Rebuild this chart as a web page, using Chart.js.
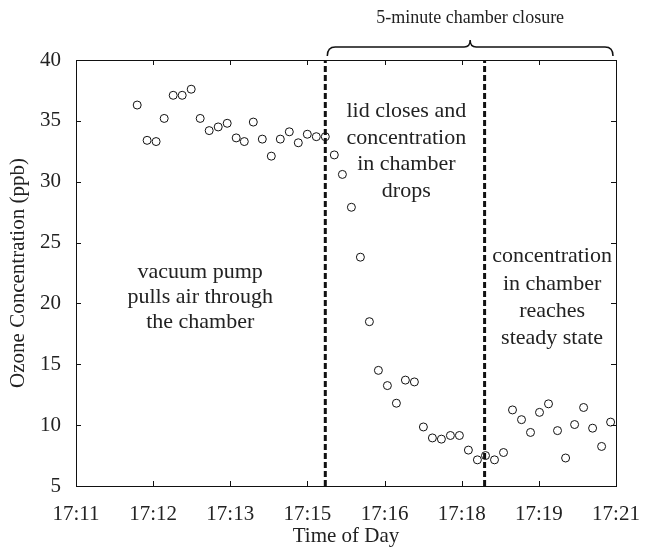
<html lang="en">
<head>
    <meta charset="utf-8"/>
    <title>Ozone Chamber Closure</title>
    <script src="https://cdn.jsdelivr.net/npm/chart.js"></script>
    <style>
        body { margin: 0; background: #fff; }
        #wrap { width: 651px; height: 547px; }
    </style>
</head>
<body>
<div id="wrap"><canvas id="ozoneChart" width="651" height="547"></canvas></div>
<script>
    // tick labels along the time axis (equally spaced, 17:11 .. 17:21)
    const tickLabels = ['17:11', '17:12', '17:13', '17:15', '17:16', '17:18', '17:19', '17:21'];

    // sample times, seconds after 17:11:00
    const timeSec = [68, 79, 89, 98, 108, 118, 128, 138, 148, 158, 168, 178, 187, 197, 207, 217, 227, 237,
        247, 257, 267, 277, 287, 296, 306, 316, 326, 336, 346, 356, 366, 376, 386, 396, 406, 416,
        426, 436, 446, 455, 465, 475, 485, 495, 505, 515, 525, 535, 544, 554, 564, 574, 584, 594];

    // ozone concentration (ppb)
    const ozonePpb = [36.3, 33.4, 33.3, 35.2, 37.1, 37.1, 37.6, 35.2, 34.2, 34.5, 34.8, 33.6, 33.3, 34.9, 33.5, 32.1, 33.5, 34.1,
        33.2, 33.9, 33.7, 33.7, 32.2, 30.6, 27.9, 23.8, 18.5, 14.5, 13.25, 11.8, 13.7, 13.55, 9.85, 8.95, 8.85, 9.15,
        9.15, 7.95, 7.15, 7.5, 7.15, 7.75, 11.25, 10.45, 9.4, 11.05, 11.75, 9.55, 7.3, 10.05, 11.45, 9.75, 8.25, 10.25];

    // dashed markers: lid closes, concentration reaches steady state
    const lidCloseSec = 277;
    const steadySec = 454;
    const xMin = 0, xMax = 600, yMin = 5, yMax = 40;

    const serif = "'Liberation Serif', 'DejaVu Serif', serif";
    const ink = '#222';

    const points = timeSec.map((t, i) => ({ x: t, y: ozonePpb[i] }));

    // text blocks placed in data coordinates (x seconds, y of first line)
    const notes = [
        { x: 138, y: 22.55, step: 25, lines: ['vacuum pump', 'pulls air through', 'the chamber'] },
        { x: 367, y: 35.8, step: 26.7, lines: ['lid closes and', 'concentration', 'in chamber', 'drops'] },
        { x: 529, y: 23.86, step: 27.4, lines: ['concentration', 'in chamber', 'reaches', 'steady state'] }
    ];

    const framePlugin = {
        id: 'frame',
        afterDraw(chart) {
            const { ctx, chartArea: a, scales: { x, y } } = chart;
            ctx.save();
            ctx.strokeStyle = '#111';
            ctx.lineWidth = 1;
            ctx.strokeRect(a.left + 0.5, a.top + 0.5, a.right - a.left, a.bottom - a.top);
            // inward ticks on all four sides
            ctx.beginPath();
            x.ticks.forEach(t => {
                const px = Math.round(x.getPixelForValue(t.value)) + 0.5;
                ctx.moveTo(px, a.bottom); ctx.lineTo(px, a.bottom - 5);
                ctx.moveTo(px, a.top); ctx.lineTo(px, a.top + 5);
            });
            y.ticks.forEach(t => {
                const py = Math.round(y.getPixelForValue(t.value)) + 0.5;
                ctx.moveTo(a.left, py); ctx.lineTo(a.left + 5, py);
                ctx.moveTo(a.right, py); ctx.lineTo(a.right - 5, py);
            });
            ctx.stroke();

            // annotations
            ctx.fillStyle = ink;
            ctx.font = '22px ' + serif;
            ctx.textAlign = 'center';
            ctx.textBaseline = 'middle';
            notes.forEach(n => {
                const cx = x.getPixelForValue(n.x);
                const cy = y.getPixelForValue(n.y);
                n.lines.forEach((s, i) => ctx.fillText(s, cx, cy + i * n.step));
            });

            // curly brace over the closure period
            const x0 = x.getPixelForValue(lidCloseSec) + 2;
            const x1 = x.getPixelForValue(xMax) - 3;
            const xm = (x0 + x1) / 2;
            const yb = a.top - 4, yl = a.top - 13, yt = a.top - 20, r = 8;
            ctx.lineWidth = 1.5;
            ctx.strokeStyle = '#111';
            ctx.beginPath();
            ctx.moveTo(x0, yb);
            ctx.quadraticCurveTo(x0, yl, x0 + r, yl);
            ctx.lineTo(xm - 6, yl);
            ctx.quadraticCurveTo(xm, yl, xm, yt);
            ctx.quadraticCurveTo(xm, yl, xm + 6, yl);
            ctx.lineTo(x1 - r, yl);
            ctx.quadraticCurveTo(x1, yl, x1, yb);
            ctx.stroke();
            ctx.font = '18px ' + serif;
            ctx.fillText('5-minute chamber closure', xm, 18);
            ctx.restore();
        }
    };

    const dashed = (sec) => ({
        type: 'line',
        data: [{ x: sec, y: yMin }, { x: sec, y: yMax }],
        borderColor: '#111',
        borderWidth: 3,
        borderDash: [6, 3],
        pointRadius: 0,
        showLine: true
    });

    new Chart(document.getElementById('ozoneChart'), {
        type: 'scatter',
        data: {
            datasets: [
                dashed(lidCloseSec),
                dashed(steadySec),
                {
                    label: 'Ozone',
                    data: points,
                    pointStyle: 'circle',
                    pointRadius: 4,
                    borderWidth: 1,
                    borderColor: '#111',
                    backgroundColor: 'rgba(255,255,255,0)'
                }
            ]
        },
        options: {
            responsive: false,
            animation: false,
            layout: { padding: { left: 0, top: 60, right: 35, bottom: 0 } },
            plugins: { legend: { display: false }, tooltip: { enabled: false } },
            scales: {
                x: {
                    type: 'linear',
                    min: xMin,
                    max: xMax,
                    afterBuildTicks: s => { s.ticks = tickLabels.map((_, i) => ({ value: i * (xMax - xMin) / (tickLabels.length - 1) })); },
                    afterFit: s => { s.height = 61; },
                    grid: { display: false },
                    border: { display: false },
                    ticks: {
                        autoSkip: false,
                        maxRotation: 0,
                        padding: 8,
                        color: ink,
                        font: { family: serif, size: 21 },
                        callback: (v, i) => tickLabels[i]
                    },
                    title: {
                        display: true,
                        text: 'Time of Day',
                        color: ink,
                        font: { family: serif, size: 21, lineHeight: 1 },
                        padding: { top: 0, bottom: 0 }
                    }
                },
                y: {
                    min: yMin,
                    max: yMax,
                    afterFit: s => { s.width = 76; },
                    grid: { display: false },
                    border: { display: false },
                    ticks: {
                        stepSize: 5,
                        padding: 7,
                        color: ink,
                        font: { family: serif, size: 21 }
                    },
                    title: {
                        display: true,
                        text: 'Ozone Concentration (ppb)',
                        color: ink,
                        font: { family: serif, size: 21, lineHeight: 1 },
                        padding: { top: 8, bottom: 0 }
                    }
                }
            }
        },
        plugins: [framePlugin]
    });
</script>
</body>
</html>
